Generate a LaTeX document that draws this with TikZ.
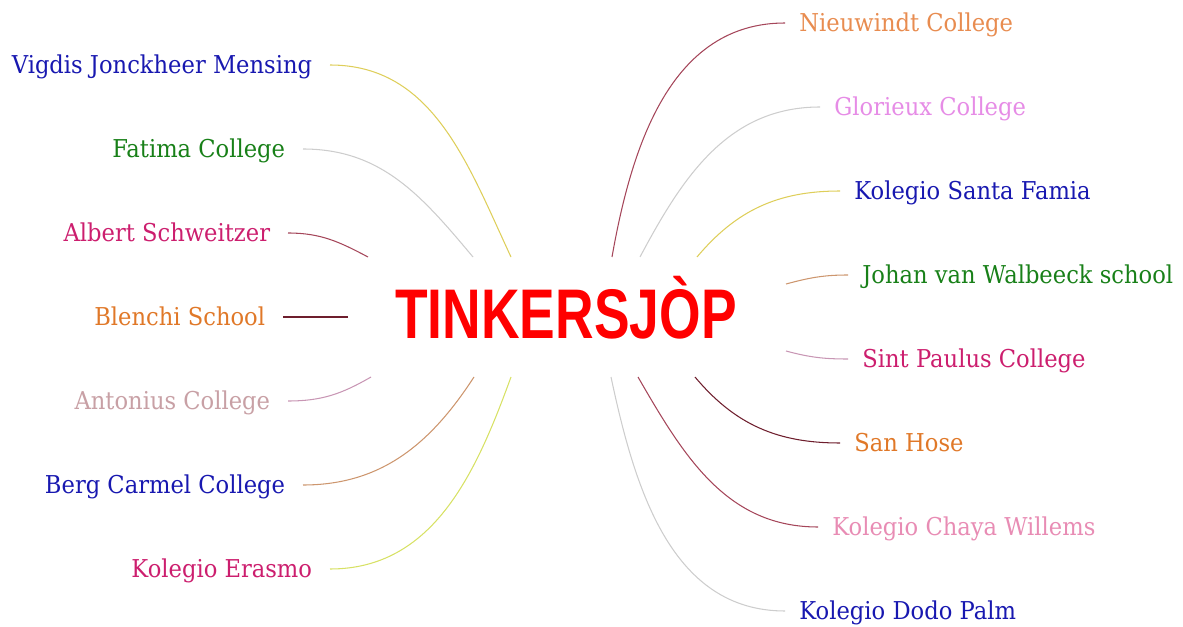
\documentclass[tikz,border=0pt]{standalone}
\usepackage{fontspec}
\usepackage{tikz}
\usepackage{xcolor}
\setmainfont{DejaVu Serif}[FakeStretch=0.92]
\newfontfamily\titlefont{Liberation Sans}[FakeStretch=0.76]

\definecolor{labBlue}{RGB}{24,24,176}
\definecolor{labGreen}{RGB}{24,128,24}
\definecolor{labRose}{RGB}{204,30,110}
\definecolor{labOrange}{RGB}{224,120,40}
\definecolor{labAntonius}{RGB}{200,160,165}
\definecolor{labNieuwindt}{RGB}{232,140,80}
\definecolor{labGlorieux}{RGB}{230,140,230}
\definecolor{labChaya}{RGB}{232,140,180}

\definecolor{lnYellow}{RGB}{222,206,90}
\definecolor{lnLime}{RGB}{215,225,100}
\definecolor{lnGrey}{RGB}{205,205,205}
\definecolor{lnMaroon}{RGB}{165,70,90}
\definecolor{lnDark}{RGB}{110,30,45}
\definecolor{lnMauve}{RGB}{200,150,180}
\definecolor{lnTan}{RGB}{205,150,110}

\begin{document}
\begin{tikzpicture}[x=0.02cm, y=0.02cm,
    leaf/.style={inner ysep=0pt, text height=10.2pt, text depth=0pt, font=\fontsize{14}{16}\selectfont},
    leftleaf/.style={leaf, anchor=east, inner xsep=10pt},
    rightleaf/.style={leaf, anchor=west, inner xsep=8pt},
    hub/.style={anchor=base, text=red, font=\titlefont\bfseries\fontsize{40}{44}\selectfont},
    link/.style={line width=0.6pt}]
                        \useasboundingbox (0, 0) rectangle (1183, 626);

                        \node[hub] (hub) at (566, 287) {TINKERSJÒP};

                        % ends round the title
                        \coordinate (vigdisEnd) at (511, 369);
                        \coordinate (fatimaEnd) at (473, 369);
                        \coordinate (albertEnd) at (368, 369);
                        \coordinate (blenchiEnd) at (348, 309);
                        \coordinate (antoniusEnd) at (371, 249);
                        \coordinate (bergEnd) at (474, 249);
                        \coordinate (erasmoEnd) at (511, 249);

                        \coordinate (nieuwindtEnd) at (612, 369);
                        \coordinate (glorieuxEnd) at (640, 369);
                        \coordinate (famiaEnd) at (697, 369);
                        \coordinate (johanEnd) at (786, 342);
                        \coordinate (paulusEnd) at (786, 275);
                        \coordinate (hoseEnd) at (695, 249);
                        \coordinate (chayaEnd) at (638, 249);
                        \coordinate (dodoEnd) at (611, 249);

                        % left schools
                        \node[leftleaf, text=labBlue] (vigdis) at (330, 561) {Vigdis Jonckheer Mensing};
                        \node[leftleaf, text=labGreen] (fatima) at (303, 477) {Fatima College};
                        \node[leftleaf, text=labRose] (albert) at (288, 393) {Albert Schweitzer};
                        \node[leftleaf, text=labOrange] (blenchi) at (283, 309) {Blenchi School};
                        \node[leftleaf, text=labAntonius] (antonius) at (288, 225) {Antonius College};
                        \node[leftleaf, text=labBlue] (berg) at (303, 141) {Berg Carmel College};
                        \node[leftleaf, text=labRose] (erasmo) at (330, 57) {Kolegio Erasmo};

                        % right schools
                        \node[rightleaf, text=labNieuwindt] (nieuwindt) at (785, 603) {Nieuwindt College};
                        \node[rightleaf, text=labGlorieux] (glorieux) at (820, 519) {Glorieux College};
                        \node[rightleaf, text=labBlue] (famia) at (840, 435) {Kolegio Santa Famia};
                        \node[rightleaf, text=labGreen] (johan) at (848, 351) {Johan van Walbeeck school};
                        \node[rightleaf, text=labRose] (paulus) at (848, 267) {Sint Paulus College};
                        \node[rightleaf, text=labOrange] (hose) at (840, 183) {San Hose};
                        \node[rightleaf, text=labChaya] (chaya) at (818, 99) {Kolegio Chaya Willems};
                        \node[rightleaf, text=labBlue] (dodo) at (785, 15) {Kolegio Dodo Palm};

                        \draw[link, lnYellow] (vigdisEnd) to[out=115, in=0] (vigdis);
                        \draw[link, lnGrey] (fatimaEnd) to[out=130, in=0] (fatima);
                        \draw[link, lnMaroon] (albertEnd) to[out=152, in=0] (albert);
                        \draw[link, lnDark] (blenchiEnd) -- (blenchi);
                        \draw[link, lnMauve] (antoniusEnd) to[out=210, in=0] (antonius);
                        \draw[link, lnTan] (bergEnd) to[out=237, in=0] (berg);
                        \draw[link, lnLime] (erasmoEnd) to[out=250, in=0] (erasmo);

                        \draw[link, lnMaroon] (nieuwindtEnd) to[out=80, in=180] (nieuwindt);
                        \draw[link, lnGrey] (glorieuxEnd) to[out=62, in=180] (glorieux);
                        \draw[link, lnYellow] (famiaEnd) to[out=50, in=180] (famia);
                        \draw[link, lnTan] (johanEnd) to[out=15, in=180] (johan);
                        \draw[link, lnMauve] (paulusEnd) to[out=-15, in=180] (paulus);
                        \draw[link, lnDark] (hoseEnd) to[out=-50, in=180] (hose);
                        \draw[link, lnMaroon] (chayaEnd) to[out=-60, in=180] (chaya);
                        \draw[link, lnGrey] (dodoEnd) to[out=-78, in=180] (dodo);
                    \end{tikzpicture}
\end{document}
